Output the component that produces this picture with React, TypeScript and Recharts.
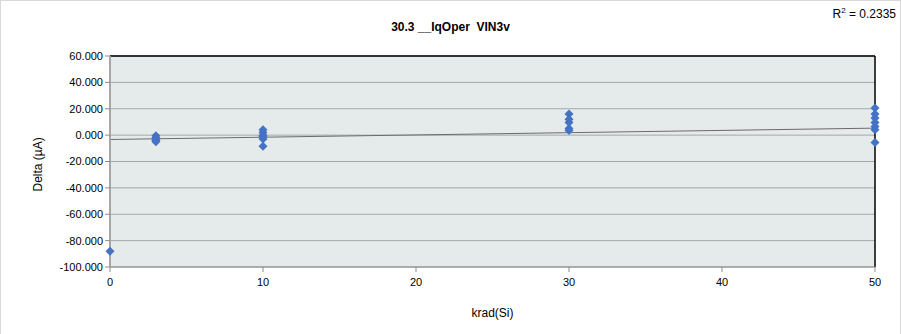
import React from 'react';
import { ComposedChart, Scatter, Line, XAxis, YAxis, CartesianGrid, ReferenceLine } from 'recharts';

const doseLevels = [0, 3, 10, 30, 50];
const deltaAt0 = [-88];
const deltaAt3 = [-0.5, -2, -3, -4, -5];
const deltaAt10 = [4, 2, 0, -1, -3, -8.5];
const deltaAt30 = [16, 12, 9.5, 5, 3.5];
const deltaAt50 = [20.5, 16, 13, 9.5, 6.5, 4, -5.5];
const trendX = [0, 50];
const trendY = [-3.3, 5.3];
const xTicks = [0, 10, 20, 30, 40, 50];
const yTicks = [-100, -80, -60, -40, -20, 0, 20, 40, 60];

const groups = [deltaAt0, deltaAt3, deltaAt10, deltaAt30, deltaAt50];
const points = groups.flatMap((g, i) => g.map((v) => ({ x: doseLevels[i], y: v })));
const trend = trendX.map((x, i) => ({ x, t: trendY[i] }));

const FONT = '"Liberation Sans", Arial, sans-serif';

const Diamond = (props: any) => {
  const { cx, cy } = props;
  if (cx == null || cy == null) return null;
  const w = 4.5;
  const h = 4.5;
  return (
    <polygon
      points={`${cx},${cy - h} ${cx + w},${cy} ${cx},${cy + h} ${cx - w},${cy}`}
      fill="#4472C4"
    />
  );
};

export default function App() {
  return (
    <div style={{ position: 'absolute', left: 0, top: 0, width: 901, height: 334, background: '#fff', fontFamily: FONT }}>
      <div style={{ position: 'absolute', left: 0, top: 0, width: 899, height: 333, border: '1px solid #d9d9d9', borderBottom: 'none', boxSizing: 'content-box' }} />
      <div style={{ position: 'absolute', left: 0, width: 901, top: 20, textAlign: 'center', fontSize: 12, fontWeight: 'bold', color: '#000' }}>
        30.3 __IqOper&nbsp; VIN3v
      </div>
      <div style={{ position: 'absolute', right: 5, top: 6, fontSize: 12, color: '#000' }}>
        R<sup style={{ fontSize: 8 }}>2</sup> = 0.2335
      </div>
      <div style={{ position: 'absolute', left: 0, top: 0 }}>
        <ComposedChart width={901} height={334} margin={{ top: 56, right: 26, bottom: 37, left: 50 }}>
          <CartesianGrid fill="#E5EBEB" stroke="#a6a6a6" vertical={false} strokeWidth={1} />
          <XAxis
            type="number"
            dataKey="x"
            domain={[0, 50]}
            ticks={xTicks}
            stroke="#8c8c8c"
            tickLine={{ stroke: '#8c8c8c' }}
            tickSize={5}
            height={30}
            tick={{ fontSize: 11, fill: '#000', fontFamily: FONT, dy: 4 }}
            label={{ value: 'krad(Si)', position: 'insideBottom', offset: -20, fontSize: 12, fill: '#000', fontFamily: FONT }}
          />
          <YAxis
            type="number"
            domain={[-100, 60]}
            ticks={yTicks}
            width={60}
            stroke="#a6a6a6"
            strokeWidth={2}
            tickLine={{ stroke: '#8c8c8c', strokeWidth: 1 }}
            tickSize={5}
            tickFormatter={(v: number) => v.toFixed(3)}
            tick={{ fontSize: 11, fill: '#000', fontFamily: FONT }}
            label={{ value: 'Delta (µA)', angle: -90, position: 'insideLeft', offset: -12, dy: 30, fontSize: 12, fill: '#000', fontFamily: FONT }}
          />
          <ReferenceLine y={60} stroke="#000" strokeWidth={1.5} />
          <ReferenceLine x={50} stroke="#000" strokeWidth={1.5} />
          <Line data={trend} dataKey="t" type="linear" stroke="#6b6b6b" strokeWidth={1} dot={false} isAnimationActive={false} />
          <Scatter data={points} dataKey="y" shape={Diamond} isAnimationActive={false} />
        </ComposedChart>
      </div>
    </div>
  );
}
